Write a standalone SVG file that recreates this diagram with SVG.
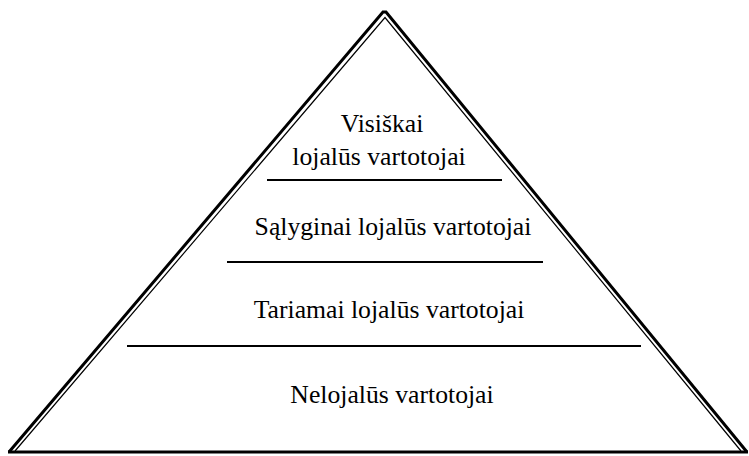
<svg xmlns="http://www.w3.org/2000/svg" width="749" height="456" viewBox="0 0 749 456">
<style>
.t{font-family:"Liberation Serif","Times New Roman",serif;font-size:25.7px;fill:#000;text-anchor:middle}
.thick{fill:none;stroke:#000;stroke-width:3}
.thin{fill:none;stroke:#000;stroke-width:1.2}
.sep{stroke:#000;stroke-width:2}
</style>
<rect width="749" height="456" fill="#fff"/>
<g id="pyramid">
<polyline class="thick" points="9,452 383,12 386,12 747,452"/>
<polyline class="thin" points="15,451 385,17.5 741,451"/>
<line class="thick" x1="8" y1="452" x2="748" y2="452"/>
</g>
<g id="separators">
<line class="sep" x1="267" y1="180" x2="502" y2="180"/>
<line class="sep" x1="227" y1="262" x2="543" y2="262"/>
<line class="sep" x1="127" y1="346" x2="641" y2="346"/>
</g>
<g id="level1"><text class="t" x="382" y="132">Visiškai</text><text class="t" x="379" y="165">lojalūs vartotojai</text></g>
<g id="level2"><text class="t" x="393" y="235">Sąlyginai lojalūs vartotojai</text></g>
<g id="level3"><text class="t" x="389" y="318">Tariamai lojalūs vartotojai</text></g>
<g id="level4"><text class="t" x="392" y="403">Nelojalūs vartotojai</text></g>
</svg>
